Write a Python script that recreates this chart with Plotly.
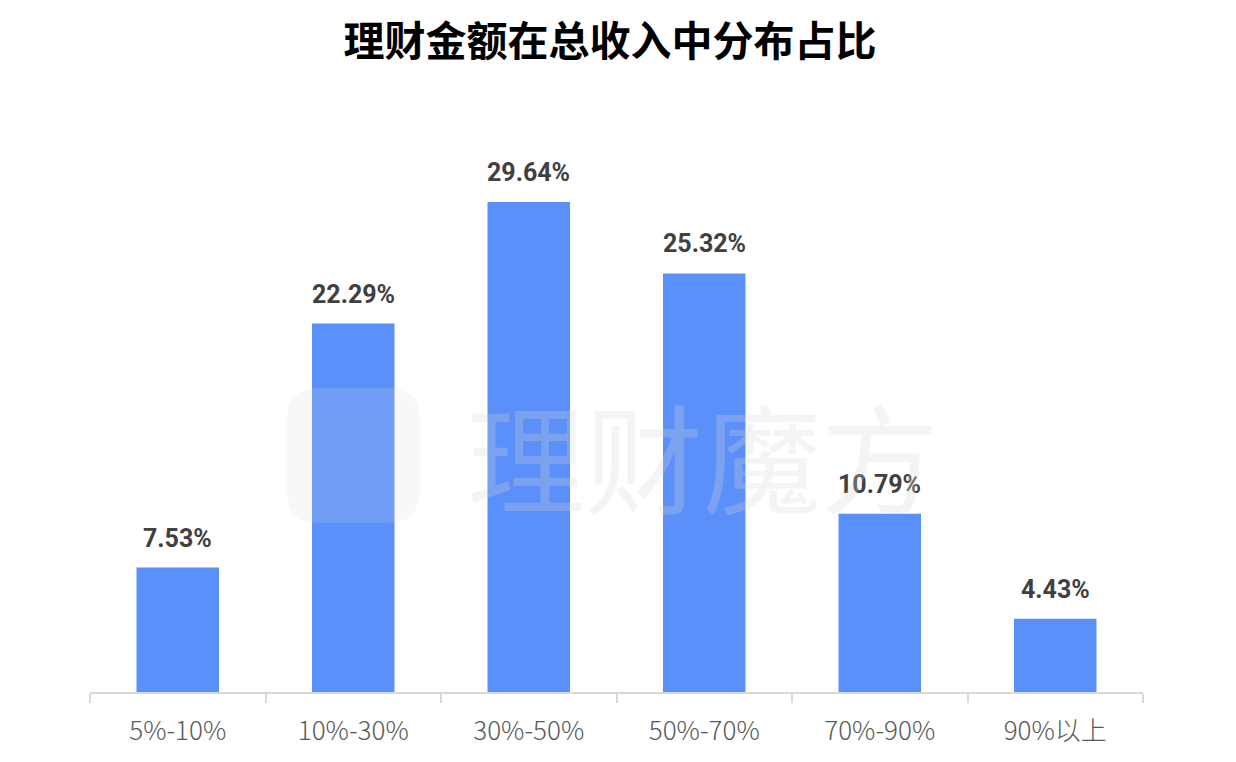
import plotly.graph_objects as go

categories = ["5%-10%", "10%-30%", "30%-50%", "50%-70%", "70%-90%", "90%以上"]
values = [7.53, 22.29, 29.64, 25.32, 10.79, 4.43]
labels = ["7.53%", "22.29%", "29.64%", "25.32%", "10.79%", "4.43%"]
title_text = "理财金额在总收入中分布占比"
watermark = "理财魔方"

fig = go.Figure()
fig.add_trace(go.Bar(
    x=categories, y=values,
    marker=dict(color="#5B8FF9", line=dict(width=0)),
    width=0.47,
    hoverinfo="x+y",
))

for c, v, t in zip(categories, values, labels):
    fig.add_annotation(
        x=c, y=v, text=t, showarrow=False, yanchor="bottom", yshift=13,
        font=dict(family="Roboto, sans-serif", size=25, color="#404040", weight="bold"),
    )

# watermark
fig.add_annotation(
    xref="paper", yref="paper", x=0.582, y=0.425, text=watermark, showarrow=False,
    font=dict(family="Noto Sans CJK SC", size=118, color="rgba(215,215,215,0.27)"),
)
x0, x1, y0, y1 = 0.187, 0.313, 0.301, 0.541
rx, ry = 0.03, 0.056
path = (f"M {x0+rx},{y0} L {x1-rx},{y0} Q {x1},{y0} {x1},{y0+ry} "
        f"L {x1},{y1-ry} Q {x1},{y1} {x1-rx},{y1} L {x0+rx},{y1} Q {x0},{y1} {x0},{y1-ry} "
        f"L {x0},{y0+ry} Q {x0},{y0} {x0+rx},{y0} Z")
fig.add_shape(
    type="path", xref="paper", yref="paper", path=path,
    fillcolor="rgba(215,215,215,0.18)", line=dict(width=0), layer="above",
)

fig.update_layout(
    width=1236, height=762,
    paper_bgcolor="white", plot_bgcolor="white",
    margin=dict(l=82, r=101, t=122, b=78),
    showlegend=False,
    title=dict(
        text=title_text, x=0.487, xanchor="center", y=0.956, yanchor="middle",
        font=dict(family="Noto Sans CJK SC", size=41, color="#000000", weight="bold"),
    ),
    xaxis=dict(
        type="category",
        showline=True, linecolor="#d9d9d9", linewidth=2,
        ticks="outside", tickson="boundaries", ticklen=9, tickcolor="#d9d9d9", tickwidth=2,
        tickfont=dict(family="Noto Sans CJK SC", size=26, color="#595959", weight=300),
        ticklabelstandoff=15,
        showgrid=False, zeroline=False,
    ),
    yaxis=dict(
        range=[0, 34.0], visible=False, showgrid=False, zeroline=False,
    ),
)

fig.write_html("out.html")
